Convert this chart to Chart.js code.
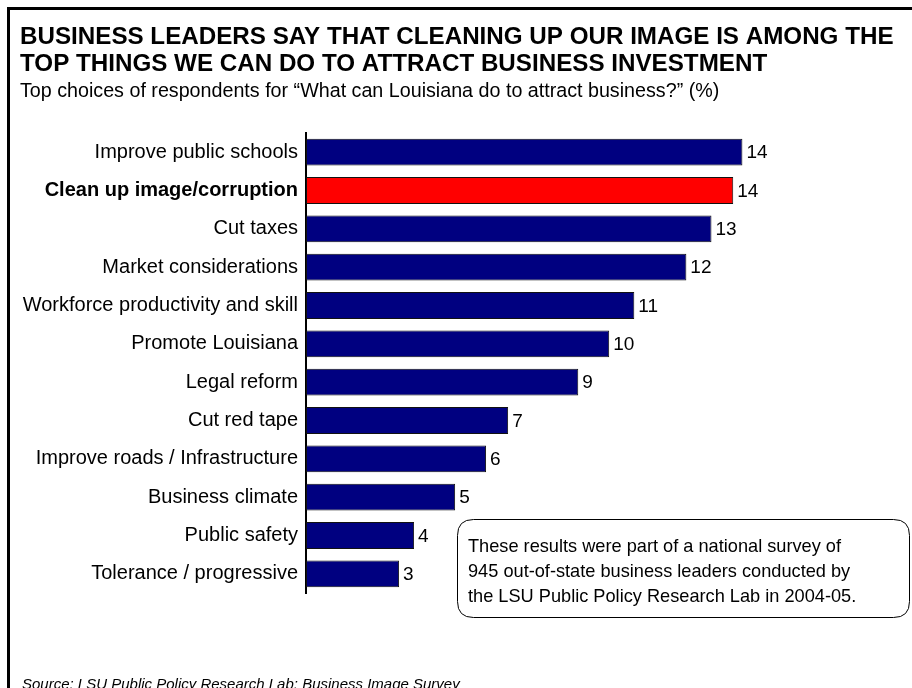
<!DOCTYPE html>
<html>
<head>
<meta charset="utf-8">
<script src="https://cdn.jsdelivr.net/npm/chart.js@4"></script>
<style>
  html, body { margin: 0; padding: 0; background: #fff; }
  #wrap { position: relative; width: 912px; height: 688px; overflow: hidden; }
  #frame { position: absolute; left: 7px; top: 7px; width: 1000px; height: 1000px;
           border-left: 3px solid #000; border-top: 3px solid #000; }
  canvas { position: absolute; left: 0; top: 0; }
</style>
</head>
<body>
<div id="wrap">
  <div id="frame"></div>
  <canvas id="chart" width="912" height="688"></canvas>
</div>
<script>
// data
const categories = [
    'Improve public schools',
    'Clean up image/corruption',
    'Cut taxes',
    'Market considerations',
    'Workforce productivity and skill',
    'Promote Louisiana',
    'Legal reform',
    'Cut red tape',
    'Improve roads / Infrastructure',
    'Business climate',
    'Public safety',
    'Tolerance / progressive'
];
const percentValues = [14.25, 13.95, 13.24, 12.42, 10.72, 9.9, 8.89, 6.6, 5.88, 4.87, 3.53, 3.04];
const highlightIndex = 1;

const titleLines = [
    'BUSINESS LEADERS SAY THAT CLEANING UP OUR IMAGE IS AMONG THE',
    'TOP THINGS WE CAN DO TO ATTRACT BUSINESS INVESTMENT'
];
const subtitleText = 'Top choices of respondents for \u201cWhat can Louisiana do to attract business?\u201d (%)';
const noteLines = [
    'These results were part of a national survey of',
    '945 out-of-state business leaders conducted by',
    'the LSU Public Policy Research Lab in 2004-05.'
];
const sourceText = 'Source: LSU Public Policy Research Lab: Business Image Survey';

const FONT = '"Liberation Sans", Arial, sans-serif';

// value labels at the end of each bar
const valueLabels = {
    id: 'valueLabels',
    afterDatasetsDraw(chart) {
        const ctx = chart.ctx;
        const meta = chart.getDatasetMeta(0);
        ctx.save();
        ctx.font = '19px ' + FONT;
        ctx.fillStyle = '#000';
        ctx.textAlign = 'left';
        ctx.textBaseline = 'middle';
        meta.data.forEach(function(bar, i) {
            ctx.fillText(String(Math.round(percentValues[i])), bar.x + 4, bar.y + 1);
        });
        ctx.restore();
    }
};

// headings, note box and source line
const decorations = {
    id: 'decorations',
    afterDraw(chart) {
        const ctx = chart.ctx;
        ctx.save();
        ctx.fillStyle = '#000';
        ctx.textAlign = 'left';
        ctx.textBaseline = 'alphabetic';

        ctx.font = 'bold 24.2px ' + FONT;
        ctx.fillText(titleLines[0], 20, 44);
        ctx.fillText(titleLines[1], 20, 71);

        ctx.font = '19.7px ' + FONT;
        ctx.fillText(subtitleText, 20, 97);

        // rounded note box
        const bx = 457.5, by = 519.5, bw = 452, bh = 98, r = 16;
        ctx.beginPath();
        ctx.moveTo(bx + r, by);
        ctx.lineTo(bx + bw - r, by);
        ctx.quadraticCurveTo(bx + bw, by, bx + bw, by + r);
        ctx.lineTo(bx + bw, by + bh - r);
        ctx.quadraticCurveTo(bx + bw, by + bh, bx + bw - r, by + bh);
        ctx.lineTo(bx + r, by + bh);
        ctx.quadraticCurveTo(bx, by + bh, bx, by + bh - r);
        ctx.lineTo(bx, by + r);
        ctx.quadraticCurveTo(bx, by, bx + r, by);
        ctx.closePath();
        ctx.fillStyle = '#fff';
        ctx.fill();
        ctx.strokeStyle = '#000';
        ctx.lineWidth = 1;
        ctx.stroke();

        ctx.fillStyle = '#000';
        ctx.font = '18.2px ' + FONT;
        noteLines.forEach(function(line, i) {
            ctx.fillText(line, 468, 552 + i * 25);
        });

        ctx.font = 'italic 15px ' + FONT;
        ctx.fillText(sourceText, 22, 689);
        ctx.restore();
    }
};

const ctx = document.getElementById('chart').getContext('2d');
const chart = new Chart(ctx, {
    type: 'bar',
    data: {
        labels: categories,
        datasets: [{
            data: percentValues,
            backgroundColor: categories.map((c, i) => i === highlightIndex ? '#ff0000' : '#000080'),
            borderColor: '#111',
            borderWidth: 1,
            borderSkipped: false,
            barPercentage: 0.7,
            categoryPercentage: 1.0
        }]
    },
    options: {
        indexAxis: 'y',
        responsive: false,
        animation: false,
        layout: {
            padding: { left: 0, right: 116, top: 133, bottom: 95 }
        },
        scales: {
            x: {
                display: false,
                min: 0,
                max: 16
            },
            y: {
                afterFit: function(scale) { scale.width = 306; },
                grid: { display: false, drawTicks: false },
                border: { display: true, color: '#000', width: 2 },
                ticks: {
                    padding: 8,
                    color: '#000',
                    font: function(c) {
                        return {
                            family: FONT,
                            size: 20,
                            weight: c.index === highlightIndex ? 'bold' : 'normal'
                        };
                    }
                }
            }
        },
        plugins: {
            legend: { display: false },
            tooltip: { enabled: false }
        }
    },
    plugins: [valueLabels, decorations]
});
</script>
</body>
</html>
